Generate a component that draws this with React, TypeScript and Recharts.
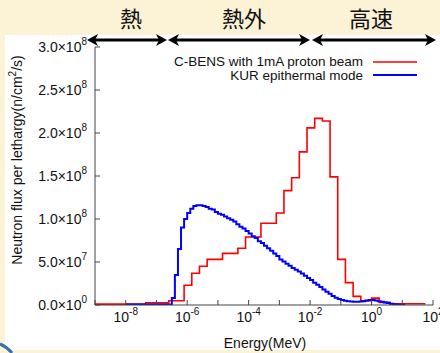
import { LineChart, Line, XAxis, YAxis } from "recharts";

// bin start energies (log10 MeV), last entry is the upper edge of the last bin
const redLogE = [
    -9.0, -7.35, -6.6, -6.1, -5.85, -5.6, -5.35, -4.85, -4.35, -4.1, -3.6, -3.1, -2.85,
    -2.6, -2.35, -2.1, -1.85, -1.6, -1.35, -1.1, -0.85, -0.6, -0.35, 0.0, 0.25, 0.6, 1.75,
];
const redFlux = [
    1e6, 2.5e6, 5e6, 2.3e7, 3.7e7, 4.5e7, 5.3e7, 6.0e7, 6.6e7, 7.9e7, 9.5e7, 1.07e8, 1.33e8,
    1.48e8, 1.78e8, 2.06e8, 2.17e8, 2.14e8, 1.49e8, 5.3e7, 2.6e7, 1.0e7, 5e6, 8e6, 3e6, 1.5e6,
];

const blueLogE = [
    -8.0, -6.5, -6.4, -6.3, -6.2, -6.1, -6.0, -5.9, -5.8, -5.7, -5.6, -5.5, -5.4, -5.3, -5.2,
    -5.1, -5.0, -4.9, -4.8, -4.7, -4.6, -4.5, -4.4, -4.3, -4.2, -4.1, -4.0, -3.9, -3.8, -3.7,
    -3.6, -3.5, -3.4, -3.3, -3.2, -3.1, -3.0, -2.9, -2.8, -2.7, -2.6, -2.5, -2.4, -2.3, -2.2,
    -2.1, -2.0, -1.9, -1.8, -1.7, -1.6, -1.5, -1.4, -1.3, -1.2, -1.1, -1.0, -0.9, -0.8, -0.7,
    -0.6, -0.5, -0.4, -0.3, -0.2, -0.1, 0.0, 0.1, 0.2, 0.3, 0.4, 0.5, 0.6, 0.7, 0.8, 0.9, 1.0,
    1.1,
];
const blueFlux = [
    5e5, 8e6, 3.5e7, 6.5e7, 9.0e7, 1.0e8, 1.07e8, 1.12e8, 1.15e8, 1.16e8, 1.16e8, 1.15e8,
    1.14e8, 1.12e8, 1.11e8, 1.08e8, 1.06e8, 1.05e8, 1.03e8, 1.01e8, 9.9e7, 9.7e7, 9.4e7,
    9.1e7, 8.9e7, 8.6e7, 8.3e7, 8.0e7, 7.8e7, 7.4e7, 7.2e7, 6.9e7, 6.6e7, 6.3e7, 6.0e7,
    5.7e7, 5.3e7, 5.05e7, 4.8e7, 4.55e7, 4.3e7, 4.1e7, 3.9e7, 3.65e7, 3.4e7, 3.15e7, 2.9e7,
    2.6e7, 2.35e7, 2.1e7, 1.8e7, 1.55e7, 1.3e7, 1.05e7, 8.5e6, 7e6, 5.8e6, 5e6, 4.4e6, 4e6,
    3.9e6, 3.9e6, 4.0e6, 4.5e6, 5.2e6, 5.8e6, 5.8e6, 5.2e6, 4.5e6, 3.8e6, 3.0e6, 2.2e6,
    1.4e6, 9e5, 6e5, 4e5, 3e5,
];

const xTicks = [1e-9, 1e-8, 1e-7, 1e-6, 1e-5, 1e-4, 1e-3, 1e-2, 1e-1, 1, 10, 100];
const yTicks = [0, 5e7, 1e8, 1.5e8, 2e8, 2.5e8, 3e8];

const redName = "C-BENS with 1mA proton beam";
const blueName = "KUR epithermal mode";

const AXIS = "#444";
const FONT = "'Liberation Sans', Arial, sans-serif";

function toSteps(logE: number[], flux: number[]) {
    const pts = flux.map((v, i) => ({ e: Math.pow(10, logE[i]), v }));
    pts.push({ e: Math.pow(10, logE[logE.length - 1]), v: flux[flux.length - 1] });
    return pts;
}

const redData = toSteps(redLogE, redFlux);
const blueData = toSteps(blueLogE, blueFlux);

const BottomTick = (props: any) => {
    const { x, y, payload } = props;
    const p = Math.round(Math.log10(payload.value));
    return (
        <g>
            <line x1={x} y1={y} x2={x} y2={y - 5} stroke={AXIS} />
            {p % 2 === 0 && (
                <text x={x} y={y + 17} textAnchor="middle" fontSize={14} fontFamily={FONT} fill="#111">
                    10
                    <tspan dy={-7} fontSize={10}>{p}</tspan>
                </text>
            )}
        </g>
    );
};

const TopTick = (props: any) => {
    const { x, y } = props;
    return <line x1={x} y1={y} x2={x} y2={y + 5} stroke={AXIS} />;
};

const LeftTick = (props: any) => {
    const { x, y, payload } = props;
    const v = payload.value;
    const exp = v === 0 ? 0 : Math.floor(Math.log10(v));
    const mant = v === 0 ? 0 : v / Math.pow(10, exp);
    return (
        <g>
            <line x1={x} y1={y} x2={x + 5} y2={y} stroke={AXIS} />
            <text x={x - 8} y={y + 5} textAnchor="end" fontSize={14} fontFamily={FONT} fill="#111">
                {mant.toFixed(1)}×10
                <tspan dy={-7} fontSize={10}>{exp}</tspan>
            </text>
        </g>
    );
};

const RightTick = (props: any) => {
    const { x, y } = props;
    return <line x1={x} y1={y} x2={x - 5} y2={y} stroke={AXIS} />;
};

function Arrow({ x1, x2, y }: { x1: number; x2: number; y: number }) {
    return (
        <g>
            <line x1={x1 + 6} y1={y} x2={x2 - 6} y2={y} stroke="#000" strokeWidth={3} />
            <path d={`M${x1},${y} L${x1 + 11},${y - 6} L${x1 + 8},${y} L${x1 + 11},${y + 6} Z`} fill="#000" />
            <path d={`M${x2},${y} L${x2 - 11},${y - 6} L${x2 - 8},${y} L${x2 - 11},${y + 6} Z`} fill="#000" />
        </g>
    );
}

export default function App() {
    return (
        <div
            style={{
                position: "absolute",
                left: 0,
                top: 0,
                width: 440,
                height: 353,
                background: "#fcf2d6",
                overflow: "hidden",
            }}
        >
            <div
                style={{
                    position: "absolute",
                    left: 5,
                    top: 35,
                    width: 435,
                    height: 315,
                    background: "#ffffff",
                }}
            />
            <div style={{ position: "absolute", left: 0, top: 0 }}>
                <LineChart
                    width={440}
                    height={353}
                    margin={{ top: 47, right: 7, bottom: 0, left: 0 }}
                >
                    <XAxis
                        dataKey="e"
                        type="number"
                        scale="log"
                        domain={[1e-9, 100]}
                        allowDataOverflow
                        ticks={xTicks}
                        interval={0}
                        tick={<BottomTick />}
                        tickSize={0}
                        tickMargin={0}
                        tickLine={false}
                        height={48}
                        axisLine={{ stroke: AXIS }}
                    />
                    <XAxis
                        xAxisId="top"
                        orientation="top"
                        dataKey="e"
                        type="number"
                        scale="log"
                        domain={[1e-9, 100]}
                        allowDataOverflow
                        ticks={xTicks}
                        interval={0}
                        tick={<TopTick />}
                        tickSize={0}
                        tickMargin={0}
                        tickLine={false}
                        height={0}
                        axisLine={{ stroke: AXIS }}
                    />
                    <YAxis
                        type="number"
                        domain={[0, 3e8]}
                        allowDataOverflow
                        ticks={yTicks}
                        interval={0}
                        tick={<LeftTick />}
                        tickSize={0}
                        tickMargin={0}
                        tickLine={false}
                        width={95}
                        axisLine={{ stroke: AXIS }}
                    />
                    <YAxis
                        yAxisId="right"
                        orientation="right"
                        type="number"
                        domain={[0, 3e8]}
                        allowDataOverflow
                        ticks={yTicks}
                        interval={0}
                        tick={<RightTick />}
                        tickSize={0}
                        tickMargin={0}
                        tickLine={false}
                        width={0}
                        axisLine={{ stroke: AXIS }}
                    />
                    <Line
                        data={redData}
                        dataKey="v"
                        name={redName}
                        type="stepAfter"
                        stroke="#ff0000"
                        strokeWidth={1.6}
                        dot={false}
                        isAnimationActive={false}
                    />
                    <Line
                        data={blueData}
                        dataKey="v"
                        name={blueName}
                        type="stepAfter"
                        stroke="#0000ff"
                        strokeWidth={2}
                        dot={false}
                        isAnimationActive={false}
                    />
                </LineChart>
            </div>
            <svg
                width={440}
                height={353}
                style={{ position: "absolute", left: 0, top: 0, pointerEvents: "none" }}
            >
                <g fontFamily="'Noto Sans CJK JP', sans-serif" fontSize={22} fill="#111" textAnchor="middle">
                    <text x={131} y={27}>熱</text>
                    <text x={244} y={27}>熱外</text>
                    <text x={371} y={27}>高速</text>
                </g>
                <Arrow x1={87} x2={167} y={40} />
                <Arrow x1={168} x2={310} y={40} />
                <Arrow x1={312} x2={436} y={40} />

                <g fontFamily={FONT} fontSize={13.5} fill="#111">
                    <text x={363} y={66} textAnchor="end">{redName}</text>
                    <text x={363} y={80} textAnchor="end">{blueName}</text>
                </g>
                <g fontFamily={FONT} fontSize={14} fill="#111">
                    <text x={265} y={348} textAnchor="middle">Energy(MeV)</text>
                    <text transform="translate(22,160) rotate(-90)" textAnchor="middle">
                        Neutron flux per lethargy(n/cm
                        <tspan dy={-6} fontSize={10}>2</tspan>
                        <tspan dy={6}>/s)</tspan>
                    </text>
                </g>
                <line x1={373} y1={62} x2={417} y2={62} stroke="#ff0000" strokeWidth={1.6} />
                <line x1={373} y1={75} x2={417} y2={75} stroke="#0000ff" strokeWidth={2} />
                <path d="M0,344 Q7,347 12,353" stroke="#3a6ea5" strokeWidth={3} fill="none" />
            </svg>
        </div>
    );
}
